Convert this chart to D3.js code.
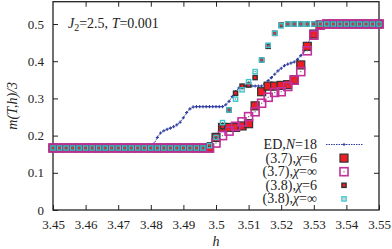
<!DOCTYPE html>
<html>
<head>
<meta charset="utf-8">
<script src="https://cdn.jsdelivr.net/npm/d3@7"></script>
<style>
  body { margin: 0; background: #fff; }
  svg text { font-family: "Liberation Serif", "DejaVu Serif", serif; fill: #222; }
</style>
</head>
<body>
<div id="chart"></div>
<script>
// DMRG field grid (step 0.002)
const hDmrg = [3.450,3.452,3.454,3.456,3.458,3.460,3.462,3.464,3.466,3.468,
  3.470,3.472,3.474,3.476,3.478,3.480,3.482,3.484,3.486,3.488,
  3.490,3.492,3.494,3.496,3.498,3.500,3.502,3.504,3.506,3.508,
  3.510,3.512,3.514,3.516,3.518,3.520,3.522,3.524,3.526,3.528,
  3.530,3.532,3.534,3.536,3.538,3.540,3.542,3.544,3.546,3.548,3.550];

const s = 0.1667;
// (3.7), chi=6
const m37chi6 = [s,s,s,s,s,s,s,s,s,s, s,s,s,s,s,s,s,s,s,s, s,s,s,s,s,
  0.195,0.222,0.222,0.222,0.226,0.232,0.280,0.318,0.333,0.333,
  0.335,0.337,0.350,0.390,0.440,0.473,0.497,
  0.5,0.5,0.5,0.5,0.5,0.5,0.5,0.5,0.5];
// (3.7), chi=inf
const m37chiInf = [s,s,s,s,s,s,s,s,s,s, s,s,s,s,s,s,s,s,s,s, s,s,s,s,s,
  0.180,0.200,0.212,0.225,0.237,0.251,0.264,0.287,0.303,0.316,
  0.318,0.332,0.349,0.372,0.428,0.470,0.497,
  0.5,0.5,0.5,0.5,0.5,0.5,0.5,0.5,0.5];
// (3.8), chi=6
const m38chi6 = [s,s,s,s,s,s,s,s,s,s, s,s,s,s,s,s,s,s,s,s, s,s,s,s,
  0.175,0.200,0.224,0.269,0.314,0.333,0.336,0.356,0.403,0.440,0.475,0.497,
  0.5,0.5,0.5,0.5,0.5,0.5,0.5,0.5,0.5,0.5,0.5,0.5,0.5,0.5,0.5];
// (3.8), chi=inf
const m38chiInf = [s,s,s,s,s,s,s,s,s,s, s,s,s,s,s,s,s,s,s,s, s,s,s,s,
  0.173,0.195,0.235,0.269,0.298,0.323,0.345,0.372,0.403,0.443,0.475,0.495,
  0.5,0.5,0.5,0.5,0.5,0.5,0.5,0.5,0.5,0.5,0.5,0.5,0.5,0.5,0.5];

// ED, N=18 (step 0.001)
const hEd = [3.450,3.451,3.452,3.453,3.454,3.455,3.456,3.457,3.458,3.459,
  3.460,3.461,3.462,3.463,3.464,3.465,3.466,3.467,3.468,3.469,
  3.470,3.471,3.472,3.473,3.474,3.475,3.476,3.477,3.478,3.479,
  3.480,3.481,3.482,3.483,3.484,3.485,3.486,3.487,3.488,3.489,
  3.490,3.491,3.492,3.493,3.494,3.495,3.496,3.497,3.498,3.499,
  3.500,3.501,3.502,3.503,3.504,3.505,3.506,3.507,3.508,3.509,
  3.510,3.511,3.512,3.513,3.514,3.515,3.516,3.517,3.518,3.519,
  3.520,3.521,3.522,3.523,3.524,3.525,3.526,3.527,3.528,3.529,
  3.530,3.531,3.532,3.533,3.534,3.535,3.536,3.537,3.538,3.539,
  3.540,3.541,3.542,3.543,3.544,3.545,3.546,3.547,3.548,3.549,3.550];
const p = 0.2778, q = 0.3333;
const mEd = [s,s,s,s,s,s,s,s,s,s, s,s,s,s,s,s,s,s,s,s, s,s,s,s,s,s,s,s,s,s, s,
  0.178,0.195,0.207,0.213,0.217,0.220,0.224,0.229,0.236,0.248,0.262,0.272,0.277,0.278,
  p,p,p,p,p,p,p,p,
  0.283,0.292,0.305,0.318,0.328,0.332,
  q,q,q,q,q,q,
  0.340,0.348,0.356,0.365,0.374,0.381,0.388,0.392,0.395,0.398,
  0.405,0.415,0.428,0.445,0.462,0.478,0.490,0.497,
  0.5,0.5,0.5,0.5,0.5,0.5,0.5,0.5,0.5,0.5,0.5,0.5,0.5,0.5,0.5,0.5,0.5,0.5];

const xTicks = [3.45,3.46,3.47,3.48,3.49,3.5,3.51,3.52,3.53,3.54,3.55];
const yTicks = [0,0.1,0.2,0.3,0.4,0.5];

const W = 392, H = 249;
const margin = {top: 1.7, right: 13, bottom: 39, left: 53};

const x = d3.scaleLinear().domain([3.45, 3.55]).range([margin.left, W - margin.right]);
const y = d3.scaleLinear().domain([0, 0.56]).range([H - margin.bottom, margin.top]);

const svg = d3.select('#chart').append('svg')
    .attr('width', W)
    .attr('height', H);

const blue = '#2f3ea0', red = '#ee1c25', magenta = '#c2309a', cyan = '#3fc4cc', dark = '#333';

// ticks on all four sides, pointing inwards
const tl = 5;
svg.append('g')
    .attr('transform', `translate(0,${y(0)})`)
    .call(d3.axisBottom(x).tickValues(xTicks).tickSizeInner(-tl).tickSizeOuter(0)
      .tickPadding(10).tickFormat(d => d3.format('')(+d.toFixed(2))))
    .call(g => g.select('.domain').remove());
svg.append('g')
    .attr('transform', `translate(0,${y(0.56)})`)
    .call(d3.axisTop(x).tickValues(xTicks.slice(1, -1)).tickSizeInner(-tl).tickSizeOuter(0).tickFormat(''))
    .call(g => g.select('.domain').remove());
svg.append('g')
    .attr('transform', `translate(${x(3.45)},0)`)
    .call(d3.axisLeft(y).tickValues(yTicks).tickSizeInner(-tl).tickSizeOuter(0).tickPadding(9)
      .tickFormat(d => d === 0 ? '0' : d3.format('.1f')(d)))
    .call(g => g.select('.domain').remove());
svg.append('g')
    .attr('transform', `translate(${x(3.55)},0)`)
    .call(d3.axisRight(y).tickValues(yTicks.slice(1)).tickSizeInner(-tl).tickSizeOuter(0).tickFormat(''))
    .call(g => g.select('.domain').remove());

svg.selectAll('.tick line').attr('stroke', '#222');
svg.selectAll('.tick text').attr('font-size', 13).attr('font-family', '"Liberation Serif", serif').attr('fill', '#222');

svg.append('rect')
    .attr('x', x(3.45)).attr('y', y(0.56))
    .attr('width', x(3.55) - x(3.45)).attr('height', y(0) - y(0.56))
    .attr('fill', 'none').attr('stroke', '#222').attr('stroke-width', 1.3);

// ED curve
const edData = hEd.map((h, i) => ({h, m: mEd[i]}));
const line = d3.line().x(d => x(d.h)).y(d => y(d.m));
const plot = svg.append('g');
plot.append('path')
    .datum(edData)
    .attr('d', line)
    .attr('fill', 'none')
    .attr('stroke', blue)
    .attr('stroke-width', 1)
    .attr('stroke-dasharray', '1.5,1');
const plus = 'M-1.6,0H1.6M0,-1.6V1.6';
plot.selectAll('.ed')
    .data(edData)
  .enter().append('path')
    .attr('class', 'ed')
    .attr('d', plus)
    .attr('transform', d => `translate(${x(d.h)},${y(d.m)})`)
    .attr('stroke', blue)
    .attr('stroke-width', 1.1);

// square markers
function filledSquare(g, size, sw) {
  g.append('rect')
      .attr('x', -size / 2).attr('y', -size / 2)
      .attr('width', size).attr('height', size)
      .attr('fill', red).attr('stroke', dark).attr('stroke-width', sw);
}
function openSquare(g, size, color, sw) {
  g.append('rect')
      .attr('x', -size / 2).attr('y', -size / 2)
      .attr('width', size).attr('height', size)
      .attr('fill', 'none').attr('stroke', color).attr('stroke-width', sw);
  g.append('rect')
      .attr('x', -0.6).attr('y', -0.6).attr('width', 1.2).attr('height', 1.2)
      .attr('fill', '#777');
}

const series = [
  {name: '(3.7),', values: m37chi6, draw: g => filledSquare(g, 8, 1.2)},
  {name: '(3.7),', values: m37chiInf, draw: g => openSquare(g, 8, magenta, 1.6)},
  {name: '(3.8),', values: m38chi6, draw: g => filledSquare(g, 4.2, 1.4)},
  {name: '(3.8),', values: m38chiInf, draw: g => openSquare(g, 4.2, cyan, 1.4)}
];

series.forEach(sr => {
  plot.append('g').selectAll('g')
      .data(hDmrg.map((h, i) => ({h, m: sr.values[i]})))
    .enter().append('g')
      .attr('transform', d => `translate(${x(d.h)},${y(d.m)})`)
      .each(function() { sr.draw(d3.select(this)); });
});

// annotation
const ann = svg.append('text').attr('x', 68).attr('y', 28).attr('font-size', 14);
ann.append('tspan').attr('font-style', 'italic').text('J');
ann.append('tspan').attr('font-size', 10).attr('dy', 3).text('2');
ann.append('tspan').attr('dy', -3).text('=2.5, ');
ann.append('tspan').attr('font-style', 'italic').text('T');
ann.append('tspan').text('=0.001');

// legend
const legX = 317, symX = 344, legY0 = 149, legDy = 13.6;
const leg = svg.append('g');
const labels = [
  [['ED,', false], ['N', true], ['=18', false]],
  [['(3.7),', false], ['χ', true], ['=6', false]],
  [['(3.7),', false], ['χ', true], ['=∞', false]],
  [['(3.8),', false], ['χ', true], ['=6', false]],
  [['(3.8),', false], ['χ', true], ['=∞', false]]
];
labels.forEach((parts, i) => {
  const t = leg.append('text')
      .attr('x', legX).attr('y', legY0 + i * legDy)
      .attr('text-anchor', 'end').attr('font-size', 14);
  parts.forEach(([txt, it]) => t.append('tspan').attr('font-style', it ? 'italic' : 'normal').text(txt));
});
const ly = i => legY0 + i * legDy - 4.5;
leg.append('line')
    .attr('x1', 326).attr('x2', 363).attr('y1', ly(0)).attr('y2', ly(0))
    .attr('stroke', blue).attr('stroke-width', 1).attr('stroke-dasharray', '1.5,1');
leg.append('path').attr('d', plus).attr('transform', `translate(${symX},${ly(0)})`)
    .attr('stroke', blue).attr('stroke-width', 1.1);
series.forEach((sr, i) => {
  const g = leg.append('g').attr('transform', `translate(${symX},${ly(i + 1)})`);
  sr.draw(g);
});

// axis titles
svg.append('text')
    .attr('transform', `translate(17,${(y(0) + y(0.56)) / 2}) rotate(-90)`)
    .attr('text-anchor', 'middle').attr('font-size', 14).attr('font-style', 'italic')
    .text('m(T,h)/3');
svg.append('text')
    .attr('x', (x(3.45) + x(3.55)) / 2).attr('y', 246)
    .attr('text-anchor', 'middle').attr('font-size', 14).attr('font-style', 'italic')
    .text('h');
</script>
</body>
</html>
